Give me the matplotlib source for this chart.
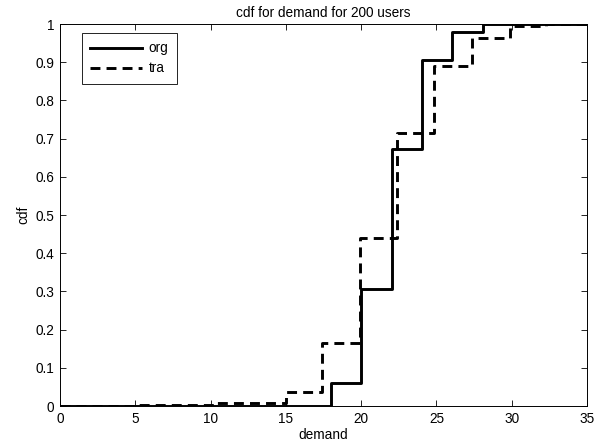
import matplotlib
matplotlib.use("Agg")
import matplotlib.pyplot as plt

plt.rcParams['font.family'] = ['Liberation Sans', 'DejaVu Sans']

# step edges (cdf of demand)
org_x = [0, 18, 20, 22.05, 24.05, 26.05, 28.1, 35]
org_y = [0, 0.06, 0.305, 0.674, 0.906, 0.978, 1.0, 1.0]

tra_x = [0, 5, 10.3, 15, 17.4, 19.9, 22.35, 24.85, 27.35, 29.9, 32.3, 35]
tra_y = [0, 0.003, 0.008, 0.036, 0.165, 0.44, 0.714, 0.891, 0.963, 0.994, 1.0, 1.0]

x_ticks = [0, 5, 10, 15, 20, 25, 30, 35]
y_ticks = [0, 0.1, 0.2, 0.3, 0.4, 0.5, 0.6, 0.7, 0.8, 0.9, 1]
y_labels = ['0', '0.1', '0.2', '0.3', '0.4', '0.5', '0.6', '0.7', '0.8', '0.9', '1']

fs = 9.8

fig = plt.figure(figsize=(6.13, 4.47), dpi=100)
ax = fig.add_axes([0.0979, 0.0917, 0.8597, 0.8546])

ax.step(org_x, org_y, where='post', color='black', lw=2.1, label='org')
line, = ax.step(tra_x, tra_y, where='post', color='black', lw=2.1, label='tra')
line.set_dashes((3.4, 2.1))

ax.set_xlim(0, 35)
ax.set_ylim(0, 1)
ax.set_xticks(x_ticks)
ax.set_yticks(y_ticks)
ax.set_yticklabels(y_labels)
ax.tick_params(direction='in', top=True, right=True, length=4, width=0.6,
               labelsize=fs, pad=4)
for s in ax.spines.values():
    s.set_linewidth(0.7)

ax.set_title('cdf for demand for 200 users', fontsize=fs, pad=5)
ax.set_xlabel('demand', fontsize=fs, labelpad=2)
ax.set_ylabel('cdf', fontsize=fs, labelpad=4)

leg = ax.legend(loc='upper left', bbox_to_anchor=(0.042, 0.976), borderaxespad=0,
                fancybox=False, edgecolor='black', fontsize=fs, handlelength=3.8,
                handletextpad=0.5, borderpad=0.6, labelspacing=0.45, framealpha=1)
leg.get_frame().set_linewidth(0.6)

fig.savefig('out.png', dpi=100)
